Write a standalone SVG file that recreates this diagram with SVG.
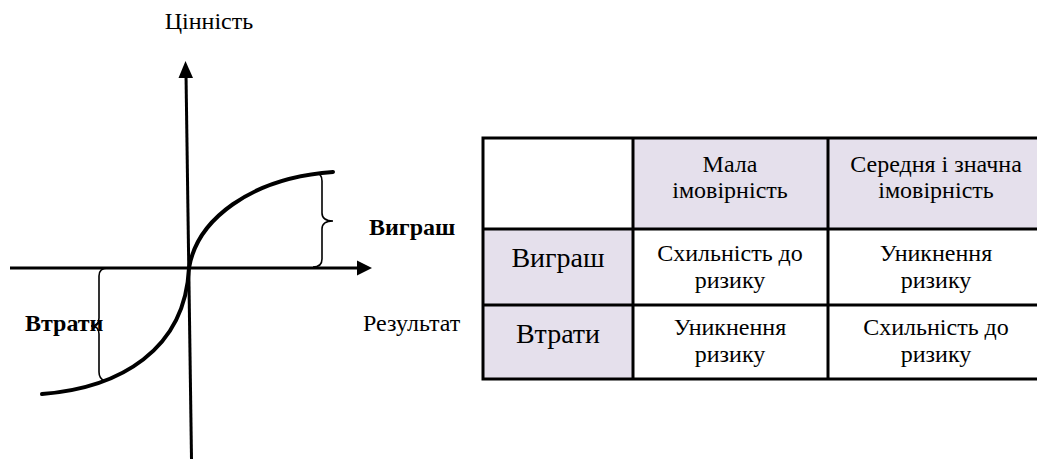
<svg xmlns="http://www.w3.org/2000/svg" width="1037" height="459" viewBox="0 0 1037 459">
<style>
text{font-family:'Liberation Serif',serif;font-size:24px;fill:#000}
.m{text-anchor:middle}
.b{font-weight:bold}
.rl{font-size:28px}
.ax{stroke:#000;stroke-width:3;fill:none}
.cv{stroke:#000;stroke-width:4;fill:none;stroke-linecap:round}
.br{stroke:#000;stroke-width:1.6;fill:none}
.hd{fill:#E5E0EC}
.wh{fill:#fff}
.gl{stroke:#000;stroke-width:3;fill:none}
</style>
<rect width="1037" height="459" fill="#fff"/>
<g id="graph">
  <g id="axes">
    <line class="ax" x1="186" y1="74" x2="191.5" y2="459"/>
    <line class="ax" x1="10" y1="268" x2="360" y2="268"/>
    <polygon points="185.5,61 178.5,78 193,78" fill="#000"/>
    <polygon points="372,268 357,260.5 357,275.5" fill="#000"/>
  </g>
  <g id="curve">
    <path class="cv" d="M42,394 C120,388 185,350 189,268 C197,220 250,178 333,172"/>
  </g>
  <g id="graph-labels">
    <text id="label-value" class="m" x="209" y="29">Цінність</text>
    <text id="label-result" x="363" y="331">Результат</text>
    <text id="label-gain" class="b" x="369" y="235">Виграш</text>
    <text id="label-loss" class="b" x="25" y="331">Втрати</text>
  </g>
  <g id="braces">
    <path class="br" d="M315,173 Q322,173 322,181 L322,213 Q322,221 333,221 Q322,221 322,229 L322,259 Q322,267 313,267"/>
    <path class="br" d="M108,268 Q99,268 99,276 L99,318 Q99,326 91,326 Q99,326 99,334 L99,372 Q99,379 105,381"/>
  </g>
</g>
<g id="table">
  <g id="cells">
    <rect class="wh" x="483" y="138" width="150" height="91"/>
    <rect class="hd" x="633" y="138" width="195" height="91"/>
    <rect class="hd" x="828" y="138" width="215" height="91"/>
    <rect class="hd" x="483" y="229" width="150" height="150"/>
    <rect class="wh" x="633" y="229" width="410" height="150"/>
  </g>
  <g id="grid">
    <rect class="gl" x="483" y="138" width="560" height="241"/>
    <line class="gl" x1="633" y1="138" x2="633" y2="379"/>
    <line class="gl" x1="828" y1="138" x2="828" y2="379"/>
    <line class="gl" x1="483" y1="229" x2="1043" y2="229"/>
    <line class="gl" x1="483" y1="305" x2="1043" y2="305"/>
  </g>
  <g id="h-low"><text class="m" x="730" y="172">Мала</text><text class="m" x="730" y="198">імовірність</text></g>
  <g id="h-high"><text class="m" x="936" y="172">Середня і значна</text><text class="m" x="936" y="198">імовірність</text></g>
  <g id="r-gain"><text class="m rl" x="558" y="267">Виграш</text></g>
  <g id="r-loss"><text class="m rl" x="558" y="343">Втрати</text></g>
  <g id="c-gain-low"><text class="m" x="730" y="261">Схильність до</text><text class="m" x="730" y="288">ризику</text></g>
  <g id="c-gain-high"><text class="m" x="936" y="261">Уникнення</text><text class="m" x="936" y="288">ризику</text></g>
  <g id="c-loss-low"><text class="m" x="730" y="335">Уникнення</text><text class="m" x="730" y="362">ризику</text></g>
  <g id="c-loss-high"><text class="m" x="936" y="335">Схильність до</text><text class="m" x="936" y="362">ризику</text></g>
</g>
</svg>
